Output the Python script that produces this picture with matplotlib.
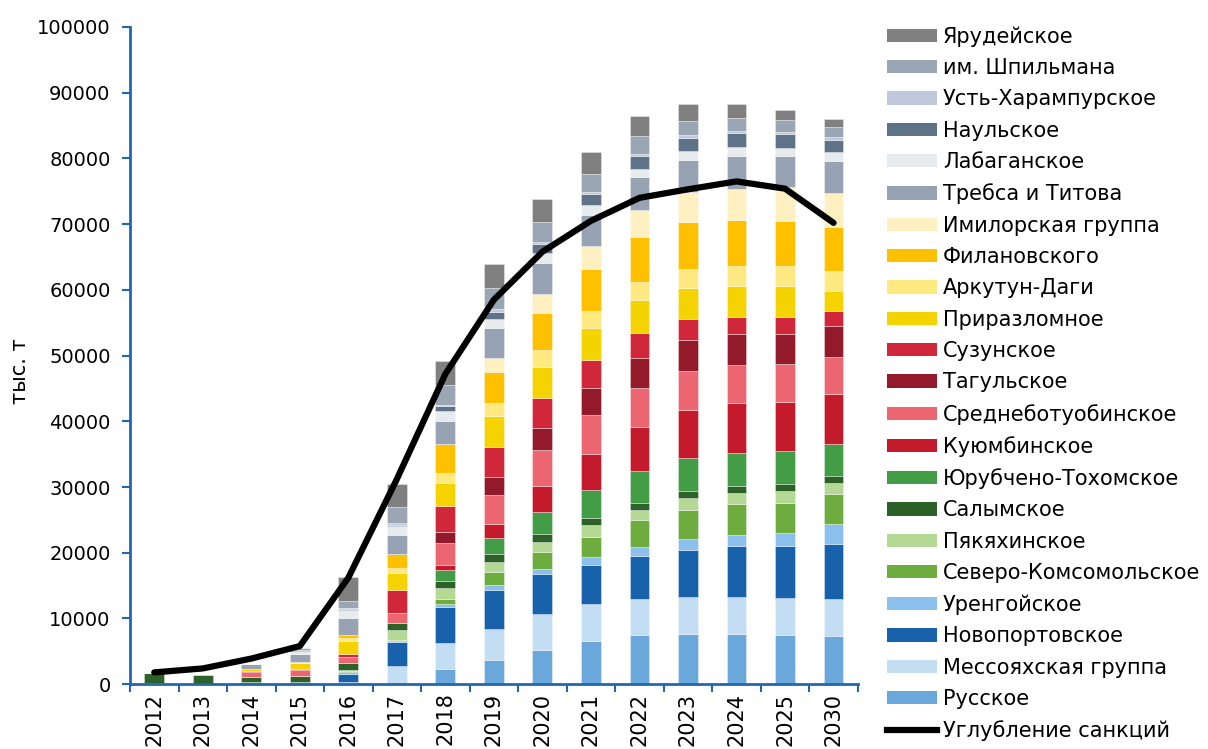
import matplotlib.pyplot as plt
import numpy as np
from matplotlib.lines import Line2D
from matplotlib.patches import Patch

plt.rcParams['font.family'] = ['DejaVu Sans']

years = ['2012', '2013', '2014', '2015', '2016', '2017', '2018', '2019',
         '2020', '2021', '2022', '2023', '2024', '2025', '2030']

# stack order, bottom -> top (тыс. т)
names = ['Русское', 'Мессояхская группа', 'Новопортовское', 'Уренгойское',
         'Северо-Комсомольское', 'Пякяхинское', 'Салымское',
         'Юрубчено-Тохомское', 'Куюмбинское', 'Среднеботуобинское',
         'Тагульское', 'Сузунское', 'Приразломное', 'Аркутун-Даги',
         'Филановского', 'Имилорская группа', 'Требса и Титова',
         'Лабаганское', 'Наульское', 'Усть-Харампурское', 'им. Шпильмана',
         'Ярудейское']

russkoe = [0, 0, 0, 0, 0, 0, 2280, 3700, 5280, 6600, 7460, 7620, 7620, 7460, 7340]
messoyakha = [0, 0, 0, 0, 400, 2700, 4000, 4670, 5370, 5600, 5580, 5660, 5660, 5640, 5700]
novoport = [0, 0, 0, 0, 1100, 3750, 5470, 5980, 6050, 6000, 6530, 7160, 7750, 7930, 8260]
urengoy = [0, 0, 0, 0, 300, 150, 500, 670, 800, 1100, 1280, 1630, 1740, 2030, 3050]
sev_koms = [150, 100, 300, 300, 200, 150, 660, 2030, 2550, 3100, 4080, 4490, 4670, 4540, 4550]
pyakyakha = [0, 0, 0, 0, 100, 1500, 1720, 1520, 1650, 1800, 1630, 1740, 1690, 1760, 1740]
salym = [1500, 1300, 860, 1000, 1150, 1100, 1070, 1260, 1130, 1100, 1040, 1060, 1100, 1100, 1050]
yurubcheno = [0, 0, 0, 0, 0, 0, 1620, 2340, 3370, 4200, 4900, 5070, 4970, 5040, 4910]
kuyumba = [0, 0, 0, 0, 0, 0, 760, 2180, 4000, 5460, 6600, 7270, 7560, 7500, 7550]
srednebot = [0, 150, 700, 900, 900, 1500, 3400, 4450, 5500, 5940, 6000, 6000, 5840, 5700, 5710]
tagul = [0, 0, 0, 0, 0, 0, 1680, 2750, 3300, 4150, 4600, 4600, 4640, 4660, 4640]
suzun = [0, 50, 150, 100, 500, 3450, 4000, 4520, 4600, 4300, 3800, 3200, 2660, 2540, 2300]
prirazl = [0, 0, 250, 860, 1900, 2650, 3500, 4730, 4700, 4800, 4900, 4850, 4740, 4740, 3100]
arkutun = [0, 0, 100, 150, 500, 750, 1400, 1970, 2500, 2600, 2800, 2900, 2960, 2960, 2950]
filanov = [0, 0, 0, 0, 500, 2100, 4500, 4730, 5700, 6400, 6900, 7000, 7000, 6930, 6700]
imilor = [0, 0, 0, 0, 0, 0, 0, 2200, 2800, 3500, 4100, 4660, 4800, 5070, 5200]
trebs = [0, 0, 700, 1300, 2600, 2950, 3550, 4500, 4800, 4800, 4900, 4850, 5000, 4800, 4900]
labagan = [0, 0, 50, 400, 1150, 1300, 1400, 1400, 1500, 1400, 1300, 1400, 1400, 1260, 1250]
naul = [0, 0, 0, 150, 200, 200, 760, 1060, 1420, 1700, 2000, 2000, 2000, 2000, 1950]
ust_har = [0, 0, 0, 100, 150, 300, 200, 360, 250, 400, 300, 350, 350, 350, 400]
shpilman = [0, 0, 0, 200, 1000, 2400, 3100, 3300, 3000, 2700, 2700, 2200, 2000, 1860, 1600]
yarudey = [0, 0, 0, 0, 3600, 3550, 3550, 3550, 3500, 3300, 3000, 2600, 2200, 1440, 1200]

sanctions = [1800, 2400, 3900, 5800, 16200, 31200, 47200, 58500, 65800,
             70500, 74000, 75300, 76500, 75400, 70200]

series = [russkoe, messoyakha, novoport, urengoy, sev_koms, pyakyakha, salym,
          yurubcheno, kuyumba, srednebot, tagul, suzun, prirazl, arkutun,
          filanov, imilor, trebs, labagan, naul, ust_har, shpilman, yarudey]

colors = ['#6AA8DC', '#C3DDF2', '#1762AB', '#8CC0EC', '#6FAC40', '#B4D995',
          '#2C6128', '#439C46', '#C41B2C', '#EC6672', '#931A2A', '#D0283A',
          '#F5D300', '#FFE980', '#FFC000', '#FFF0C2', '#97A3B3', '#E8EBEE',
          '#5E7288', '#BFC8DC', '#9AA6B4', '#808080']

axis_blue = '#2166B3'

fig = plt.figure(figsize=(12.08, 7.49), dpi=100)
ax = fig.add_axes([0.1076, 0.0865, 0.6025, 0.8775])

x = np.arange(len(years))
bottom = np.zeros(len(years))
for vals, col in zip(series, colors):
    vals = np.array(vals, dtype=float)
    ax.bar(x, vals, width=0.41, bottom=bottom, color=col,
           edgecolor=(1, 1, 1, 0.5), linewidth=0.5)
    bottom += vals

ax.plot(x, sanctions, color='black', lw=4.5, solid_joinstyle='round',
        solid_capstyle='round')

ax.set_xlim(-0.5, len(years) - 0.5)
ax.set_ylim(0, 100000)
ax.set_yticks(np.arange(0, 100001, 10000))
ax.set_yticklabels([str(v) for v in range(0, 100001, 10000)], fontsize=14)
ax.set_xticks(x)
ax.set_xticklabels(years, rotation=90, fontsize=15)
ax.set_xticks(np.arange(-0.5, len(years)), minor=True)
ax.tick_params(axis='x', which='major', length=0, pad=6)
ax.tick_params(axis='x', which='minor', length=6, width=1.5, color=axis_blue)
ax.tick_params(axis='y', length=6, width=1.5, color=axis_blue, pad=8)

for s in ['top', 'right']:
    ax.spines[s].set_visible(False)
for s in ['left', 'bottom']:
    ax.spines[s].set_color(axis_blue)
    ax.spines[s].set_linewidth(2)

ax.set_ylabel('тыс. т', fontsize=15)
ax.yaxis.set_label_coords(-0.138, 0.476)

handles = [Patch(facecolor=c, edgecolor='none') for c in colors[::-1]]
handles.append(Line2D([0], [0], color='black', lw=4.5))
labels = names[::-1] + ['Углубление санкций']
fig.legend(handles, labels, loc='upper left', bbox_to_anchor=(0.734, 0.965),
           frameon=False, fontsize=15, handlelength=2.4, handleheight=0.6,
           handletextpad=0.3, labelspacing=0.545, borderaxespad=0, borderpad=0)

fig.savefig('out.png', dpi=100)
